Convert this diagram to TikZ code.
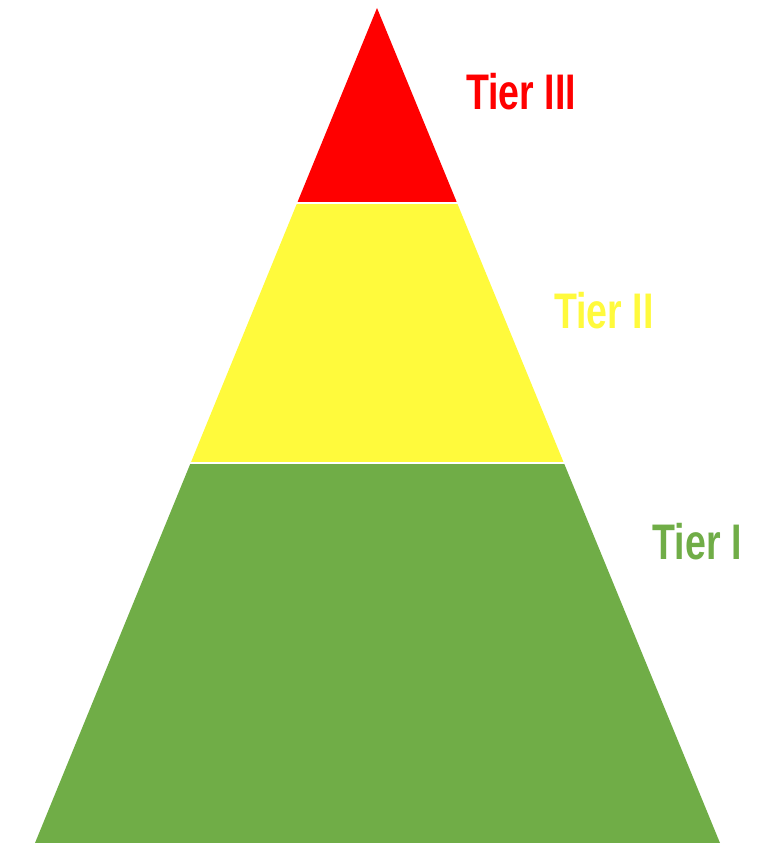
\documentclass[tikz,border=0pt]{standalone}
\usepackage{fontspec}
\usetikzlibrary{calc}
\newfontfamily\tierfont[FakeStretch=0.75]{Liberation Sans}
\definecolor{tierred}{HTML}{FF0000}
\definecolor{tieryellow}{HTML}{FFFA3C}
\definecolor{tiergreen}{HTML}{70AD47}
\tikzset{
  band/.style  = {draw=white, line width=1pt, line join=miter},
  tierlab/.style = {font=\tierfont\bfseries\fontsize{50}{50}\selectfont, inner sep=0pt},
}
\begin{document}
\begin{tikzpicture}[x=1pt, y=-1pt]
\useasboundingbox (0,0) rectangle (777,843);

% corners of the pyramid
\coordinate (apex) at (377,8);
\coordinate (bl) at (35,843);
\coordinate (br) at (720,843);

% tier borders on the two sides
\coordinate (l1) at ($(apex)!0.2335!(bl)$);
\coordinate (r1) at ($(apex)!0.2335!(br)$);
\coordinate (l2) at ($(apex)!0.545!(bl)$);
\coordinate (r2) at ($(apex)!0.545!(br)$);

\fill [tiergreen] (l2) -- (r2) -- (br) -- (bl) -- cycle;
\fill [tieryellow] (l1) -- (r1) -- (r2) -- (l2) -- cycle;
\fill [tierred] (apex) -- (r1) -- (l1) -- cycle;
\draw [white, line width=2pt] ($(l1)+(-3,0)$) -- ($(r1)+(3,0)$);
\draw [white, line width=2pt] ($(l2)+(-3,0)$) -- ($(r2)+(3,0)$);

% labels
\node (t3) [tierlab, text=tierred] at (521,92) {Tier III};
\node (t2) [tierlab, text=tieryellow] at (604,311) {Tier II};
\node (t1) [tierlab, text=tiergreen] at (697,542) {Tier I};

\end{tikzpicture}
\end{document}
